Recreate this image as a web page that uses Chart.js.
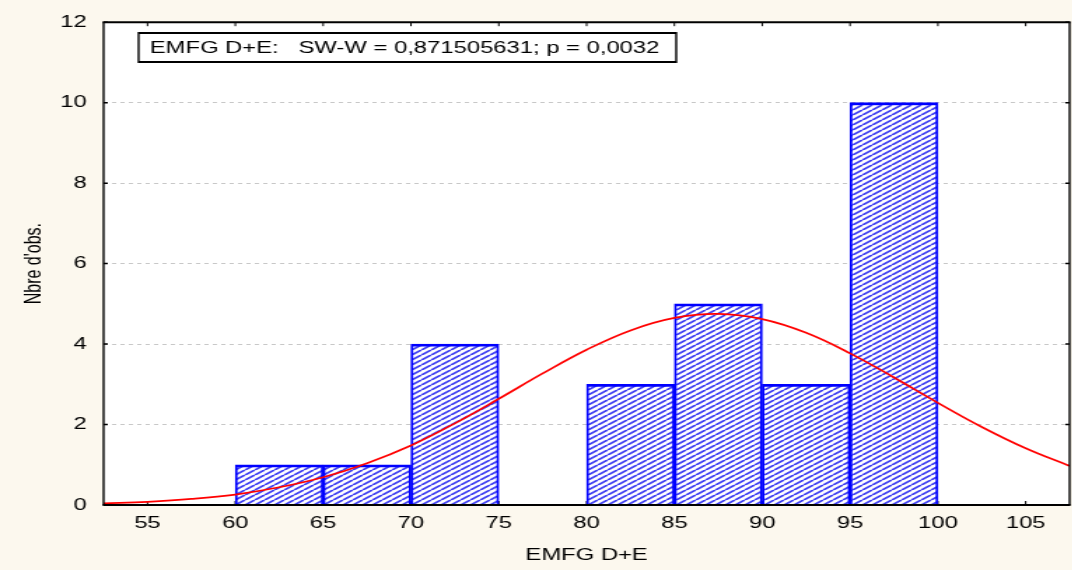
<!DOCTYPE html>
<html>
<head>
<meta charset="utf-8">
<script src="https://cdn.jsdelivr.net/npm/chart.js@4/dist/chart.umd.min.js"></script>
<style>
  html, body { margin: 0; padding: 0; background: #fcf8ee; overflow: hidden; }
  /* The histogram is laid out on a narrower canvas and widened to fill the page */
  #wrap { width: 766px; height: 570px; transform: scaleX(1.4); transform-origin: 0 0; }
  canvas { display: block; }
</style>
</head>
<body>
<div id="wrap"><canvas id="c" width="766" height="570"></canvas></div>
<script>
// Histogram classes (bin edges) and observed counts
const binEdges = [60, 65, 70, 75, 80, 85, 90, 95, 100];
const counts = [1, 1, 4, 0, 3, 5, 3, 10];

// Fitted normal curve, sampled along the axis
const curveX = [52.5, 55, 57.5, 60, 62.5, 65, 67.5, 70, 72.5, 75, 77.5, 80, 82.5, 85, 87.5, 90, 92.5, 95, 97.5, 100, 102.5, 105, 107.5];
const curveY = [0.04, 0.08, 0.15, 0.26, 0.44, 0.69, 1.04, 1.48, 2.03, 2.64, 3.27, 3.86, 4.34, 4.65, 4.75, 4.62, 4.28, 3.77, 3.17, 2.54, 1.94, 1.41, 0.97];

// Axis ticks
const xTicks = [55, 60, 65, 70, 75, 80, 85, 90, 95, 100, 105];
const yTicks = [0, 2, 4, 6, 8, 10, 12];

const xTitle = 'EMFG D+E';
const yTitle = "Nbre d'obs.";
const statLabel = 'EMFG D+E:   SW-W = 0,871505631; p = 0,0032';

const FONT = "'Liberation Sans', Arial, Helvetica, sans-serif";

const barData = counts.map((n, i) => ({ x: (binEdges[i] + binEdges[i + 1]) / 2, y: n }));
const curveData = curveX.map((v, i) => ({ x: v, y: curveY[i] }));

// Diagonal hatch used to fill the bars
function hatchPattern() {
  const w = 7, h = 5;
  const c = document.createElement('canvas');
  c.width = w; c.height = h;
  const g = c.getContext('2d');
  g.fillStyle = '#ffffff';
  g.fillRect(0, 0, w, h);
  g.strokeStyle = '#4040f2';
  g.lineWidth = 1.8;
  g.beginPath();
  for (const k of [-1, 0, 1]) {
    g.moveTo(k * w, h);
    g.lineTo((k + 1) * w, 0);
  }
  g.stroke();
  return g.createPattern(c, 'repeat');
}

// Background, plot frame, inner tick marks and the statistics box
const framePlugin = {
  id: 'frame',
  beforeDraw(chart) {
    const { ctx, chartArea: a, width, height } = chart;
    ctx.save();
    ctx.fillStyle = '#fcf8ee';
    ctx.fillRect(0, 0, width, height);
    ctx.fillStyle = '#ffffff';
    ctx.fillRect(a.left, a.top, a.right - a.left, a.bottom - a.top);
    ctx.restore();
  },
  beforeDatasetsDraw(chart) {
    const { ctx, chartArea: a, scales: { x, y } } = chart;
    ctx.save();
    ctx.strokeStyle = '#000';
    ctx.lineWidth = 1;
    ctx.beginPath();
    xTicks.forEach(v => {
      const px = x.getPixelForValue(v);
      ctx.moveTo(px, a.bottom); ctx.lineTo(px, a.bottom - 4);
      ctx.moveTo(px, a.top); ctx.lineTo(px, a.top + 4);
    });
    ctx.stroke();
    ctx.lineWidth = 1.5;
    ctx.beginPath();
    yTicks.forEach(v => {
      const py = y.getPixelForValue(v);
      ctx.moveTo(a.left, py); ctx.lineTo(a.left + 3, py);
      ctx.moveTo(a.right, py); ctx.lineTo(a.right - 3, py);
    });
    ctx.stroke();
    ctx.restore();
  },
  afterDatasetsDraw(chart) {
    const { ctx, chartArea: a } = chart;
    ctx.save();
    ctx.strokeStyle = '#000';
    // horizontal edges
    ctx.lineWidth = 2;
    ctx.beginPath();
    ctx.moveTo(a.left - 0.7, a.top); ctx.lineTo(a.right + 0.7, a.top);
    ctx.moveTo(a.left - 0.7, a.bottom); ctx.lineTo(a.right + 0.7, a.bottom);
    ctx.stroke();
    // vertical edges
    ctx.lineWidth = 1.4;
    ctx.beginPath();
    ctx.moveTo(a.left, a.top); ctx.lineTo(a.left, a.bottom);
    ctx.moveTo(a.right, a.top); ctx.lineTo(a.right, a.bottom);
    ctx.stroke();

    // statistics box
    const bx = 99, by = 33, bw = 384, bh = 29;
    ctx.fillStyle = '#ffffff';
    ctx.fillRect(bx, by, bw, bh);
    ctx.lineWidth = 2;
    ctx.beginPath();
    ctx.moveTo(bx, by); ctx.lineTo(bx + bw, by);
    ctx.moveTo(bx, by + bh); ctx.lineTo(bx + bw, by + bh);
    ctx.stroke();
    ctx.lineWidth = 1.4;
    ctx.beginPath();
    ctx.moveTo(bx, by - 1); ctx.lineTo(bx, by + bh + 1);
    ctx.moveTo(bx + bw, by - 1); ctx.lineTo(bx + bw, by + bh + 1);
    ctx.stroke();
    ctx.fillStyle = '#000';
    ctx.font = '17px ' + FONT;
    ctx.textBaseline = 'middle';
    ctx.textAlign = 'left';
    ctx.fillText(statLabel, bx + 8, by + bh / 2 + 1);
    ctx.restore();
  }
};

new Chart(document.getElementById('c'), {
  type: 'bar',
  data: {
    datasets: [
      {
        type: 'line',
        data: curveData,
        borderColor: '#ff0000',
        borderWidth: 1.7,
        pointRadius: 0,
        tension: 0.4,
        fill: false,
        order: 0
      },
      {
        type: 'bar',
        data: barData,
        backgroundColor: hatchPattern(),
        borderColor: '#0000ff',
        borderWidth: { top: 2.8, left: 1.9, right: 1.9, bottom: 0 },
        borderSkipped: false,
        barPercentage: 1,
        categoryPercentage: 1,
        order: 1
      }
    ]
  },
  options: {
    responsive: false,
    animation: false,
    devicePixelRatio: 1,
    layout: { padding: { left: 0, right: 2, top: 22, bottom: 0 } },
    plugins: { legend: { display: false }, tooltip: { enabled: false } },
    scales: {
      x: {
        type: 'linear',
        min: 52.5,
        max: 107.5,
        offset: false,
        grid: { display: false, drawTicks: false },
        border: { display: false },
        afterBuildTicks: s => { s.ticks = xTicks.map(v => ({ value: v })); },
        afterFit: s => { s.height = 65; },
        ticks: { color: '#000', font: { family: FONT, size: 17 }, padding: 8, maxRotation: 0 },
        title: { display: true, text: xTitle, color: '#000', font: { family: FONT, size: 17 }, padding: { top: 0, bottom: 4 } }
      },
      y: {
        min: 0,
        max: 12,
        grid: {
          drawTicks: false,
          color: ctx => (ctx.tick && (ctx.tick.value === 0 || ctx.tick.value === 12)) ? 'rgba(0,0,0,0)' : '#c8c8c8',
          lineWidth: 1
        },
        border: { display: false, dash: [3, 3] },
        afterBuildTicks: s => { s.ticks = yTicks.map(v => ({ value: v })); },
        afterFit: s => { s.width = 74; },
        ticks: { color: '#000', font: { family: FONT, size: 17 }, padding: 12 },
        title: { display: true, text: yTitle, color: '#000', font: { family: FONT, size: 16 }, padding: { top: 15, bottom: 0 } }
      }
    }
  },
  plugins: [framePlugin]
});
</script>
</body>
</html>
